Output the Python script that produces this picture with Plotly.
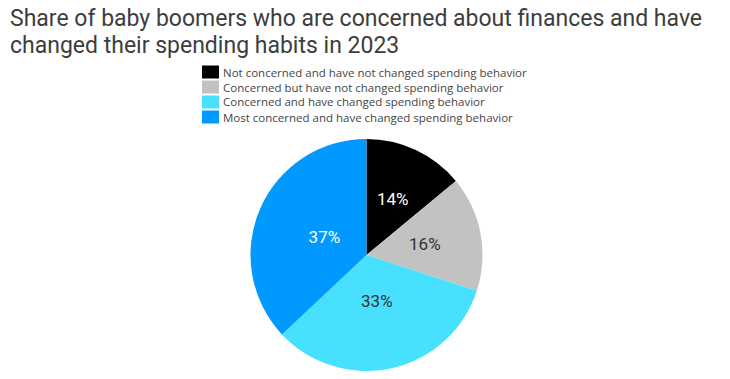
import plotly.graph_objects as go

title_lines = [
    "Share of baby boomers who are concerned about finances and have",
    "changed their spending habits in 2023",
]
categories = [
    "Not concerned and have not changed spending behavior",
    "Concerned but have not changed spending behavior",
    "Concerned and have changed spending behavior",
    "Most concerned and have changed spending behavior",
]
values = [14, 16, 33, 37]
colors = ["#000000", "#C2C2C2", "#48E0FF", "#0099FF"]
text_colors = ["#FFFFFF", "#333333", "#333333", "#FFFFFF"]

W, H = 730, 379
cx, cy, r = 366.5, 255, 116
label_r = 88
mt, mb = 139, 8
ph = H - mt - mb


def py(y_px):
    """pixel y (from top) -> paper y"""
    return (H - mb - y_px) / ph


def dom(rad):
    return dict(x=[(cx - rad) / W, (cx + rad) / W], y=[py(cy + rad), py(cy - rad)])


fig = go.Figure()
# slices
fig.add_trace(go.Pie(
    labels=categories, values=values, sort=False, direction="clockwise", rotation=0,
    marker=dict(colors=colors, line=dict(width=0)),
    textinfo="none", domain=dom(r), hoverinfo="label+percent", showlegend=False,
))
# labels (transparent inner pie so labels sit nearer the centre)
fig.add_trace(go.Pie(
    labels=categories, values=values, sort=False, direction="clockwise", rotation=0,
    marker=dict(colors=["rgba(0,0,0,0)"] * len(values), line=dict(width=0)),
    texttemplate="%{value}%", textposition="inside", insidetextorientation="horizontal",
    insidetextfont=dict(family="Roboto", size=17, color=text_colors),
    domain=dom(label_r), hoverinfo="skip", showlegend=False,
))

annotations = []
for i, line in enumerate(title_lines):
    annotations.append(dict(
        text=line, xref="paper", yref="paper", x=8 / W, y=py(18 + 27 * i),
        xanchor="left", yanchor="middle", align="left", showarrow=False,
        font=dict(family="Roboto", size=23, color="#3D3D3D"),
    ))
shapes = []
row_y0, row_gap = 72, 15
for i, (cat, col) in enumerate(zip(categories, colors)):
    yc = row_y0 + i * row_gap
    shapes.append(dict(type="rect", xref="paper", yref="paper",
                       x0=202 / W, x1=219 / W,
                       y0=py(yc + 6.5), y1=py(yc - 6.5),
                       fillcolor=col, line=dict(width=0)))
    annotations.append(dict(text=cat, xref="paper", yref="paper",
                            x=221 / W, y=py(yc),
                            xanchor="left", yanchor="middle", showarrow=False,
                            font=dict(family="Open Sans", size=11.5, color="#454545")))

fig.update_layout(
    width=W, height=H,
    margin=dict(l=0, r=0, t=mt, b=mb),
    paper_bgcolor="white", plot_bgcolor="white",
    showlegend=False,
    annotations=annotations, shapes=shapes,
)

fig.write_html("out.html")
